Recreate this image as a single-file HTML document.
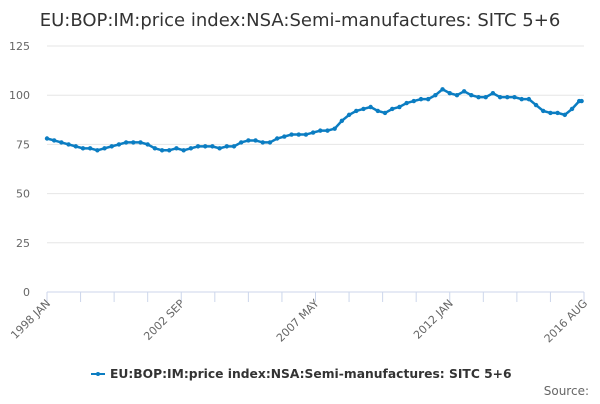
<!DOCTYPE html>
<html><head><meta charset="utf-8"><style>
body{margin:0;background:#fff;font-family:"DejaVu Sans","Liberation Sans",sans-serif}
svg text{font-family:"DejaVu Sans","Liberation Sans",sans-serif}
</style></head><body>
<svg id="chart" width="600" height="400" viewBox="0 0 600 400">
<text x="300" y="26" text-anchor="middle" font-size="18" fill="#333">EU:BOP:IM:price index:NSA:Semi-manufactures: SITC 5+6</text>
<g id="grid"></g><g id="xaxis"></g><g id="series"></g>
<g>
<line x1="91" y1="374" x2="105" y2="374" stroke="#0b7dc2" stroke-width="2"/>
<circle cx="98" cy="374" r="2" fill="#0b7dc2"/>
<text x="110" y="378" font-size="12.3" font-weight="bold" fill="#333">EU:BOP:IM:price index:NSA:Semi-manufactures: SITC 5+6</text>
</g>
<text x="589" y="395" text-anchor="end" font-size="12" fill="#666">Source:</text>
</svg>
<script>
const yTicks=[0,25,50,75,100,125];
const xTickLabels=["1998 JAN","2002 SEP","2007 MAY","2012 JAN","2016 AUG"];
const xTickMonths=[0,56,112,168,224];
const monthIdx=[];for(let i=0;i<75;i++)monthIdx.push(i*3);monthIdx.push(223);
const values=[78,77,76,75,74,73,73,72,73,74,75,76,76,76,75,73,72,72,73,72,73,74,74,74,73,74,74,76,77,77,76,76,78,79,80,80,80,81,82,82,83,87,90,92,93,94,92,91,93,94,96,97,98,98,100,103,101,100,102,100,99,99,101,99,99,99,98,98,95,92,91,91,90,93,97,97];
const NS="http://www.w3.org/2000/svg";
const X0=47,X1=584,Y0=292,Y1=46;
const x=m=>X0+(X1-X0)*m/224;
const y=v=>Y0-(Y0-Y1)*v/125;
const grid=document.getElementById('grid');
yTicks.forEach(t=>{
 const l=document.createElementNS(NS,'line');
 
 
 l.setAttribute('x1',X0);l.setAttribute('x2',X1);l.setAttribute('y1',y(t));l.setAttribute('y2',y(t));
 l.setAttribute('stroke',t===0?'#ccd6eb':'#e6e6e6');grid.appendChild(l);
 const tx=document.createElementNS(NS,'text');
 
 
 tx.setAttribute('x',30);tx.setAttribute('y',y(t)+4);tx.setAttribute('text-anchor','end');
 tx.setAttribute('font-size','11');tx.setAttribute('fill','#666');tx.textContent=t;grid.appendChild(tx);
});
const xa=document.getElementById('xaxis');
for(let m=0;m<=224;m+=14){
 const l=document.createElementNS(NS,'line');
 
 
 l.setAttribute('x1',x(m));l.setAttribute('x2',x(m));l.setAttribute('y1',Y0);l.setAttribute('y2',Y0+10);
 l.setAttribute('stroke','#ccd6eb');xa.appendChild(l);
}
xTickLabels.forEach((s,i)=>{
 const tx=document.createElementNS(NS,'text');
 
 
 const px=x(xTickMonths[i])+4,py=Y0+12;
 tx.setAttribute('x',px);tx.setAttribute('y',py);tx.setAttribute('text-anchor','end');
 tx.setAttribute('transform',`rotate(-45 ${px} ${py})`);
 tx.setAttribute('font-size','11');tx.setAttribute('fill','#666');tx.textContent=s;xa.appendChild(tx);
});
const sg=document.getElementById('series');
const p=document.createElementNS(NS,'polyline');


p.setAttribute('points',values.map((v,i)=>x(monthIdx[i])+','+y(v)).join(' '));
p.setAttribute('fill','none');p.setAttribute('stroke','#0b7dc2');p.setAttribute('stroke-width','2.5');
sg.appendChild(p);
values.forEach((v,i)=>{
 const c=document.createElementNS(NS,'circle');
 
 
 c.setAttribute('cx',x(monthIdx[i]));c.setAttribute('cy',y(v));c.setAttribute('r','2.2');c.setAttribute('fill','#0b7dc2');
 sg.appendChild(c);
});
</script>
</body></html>
